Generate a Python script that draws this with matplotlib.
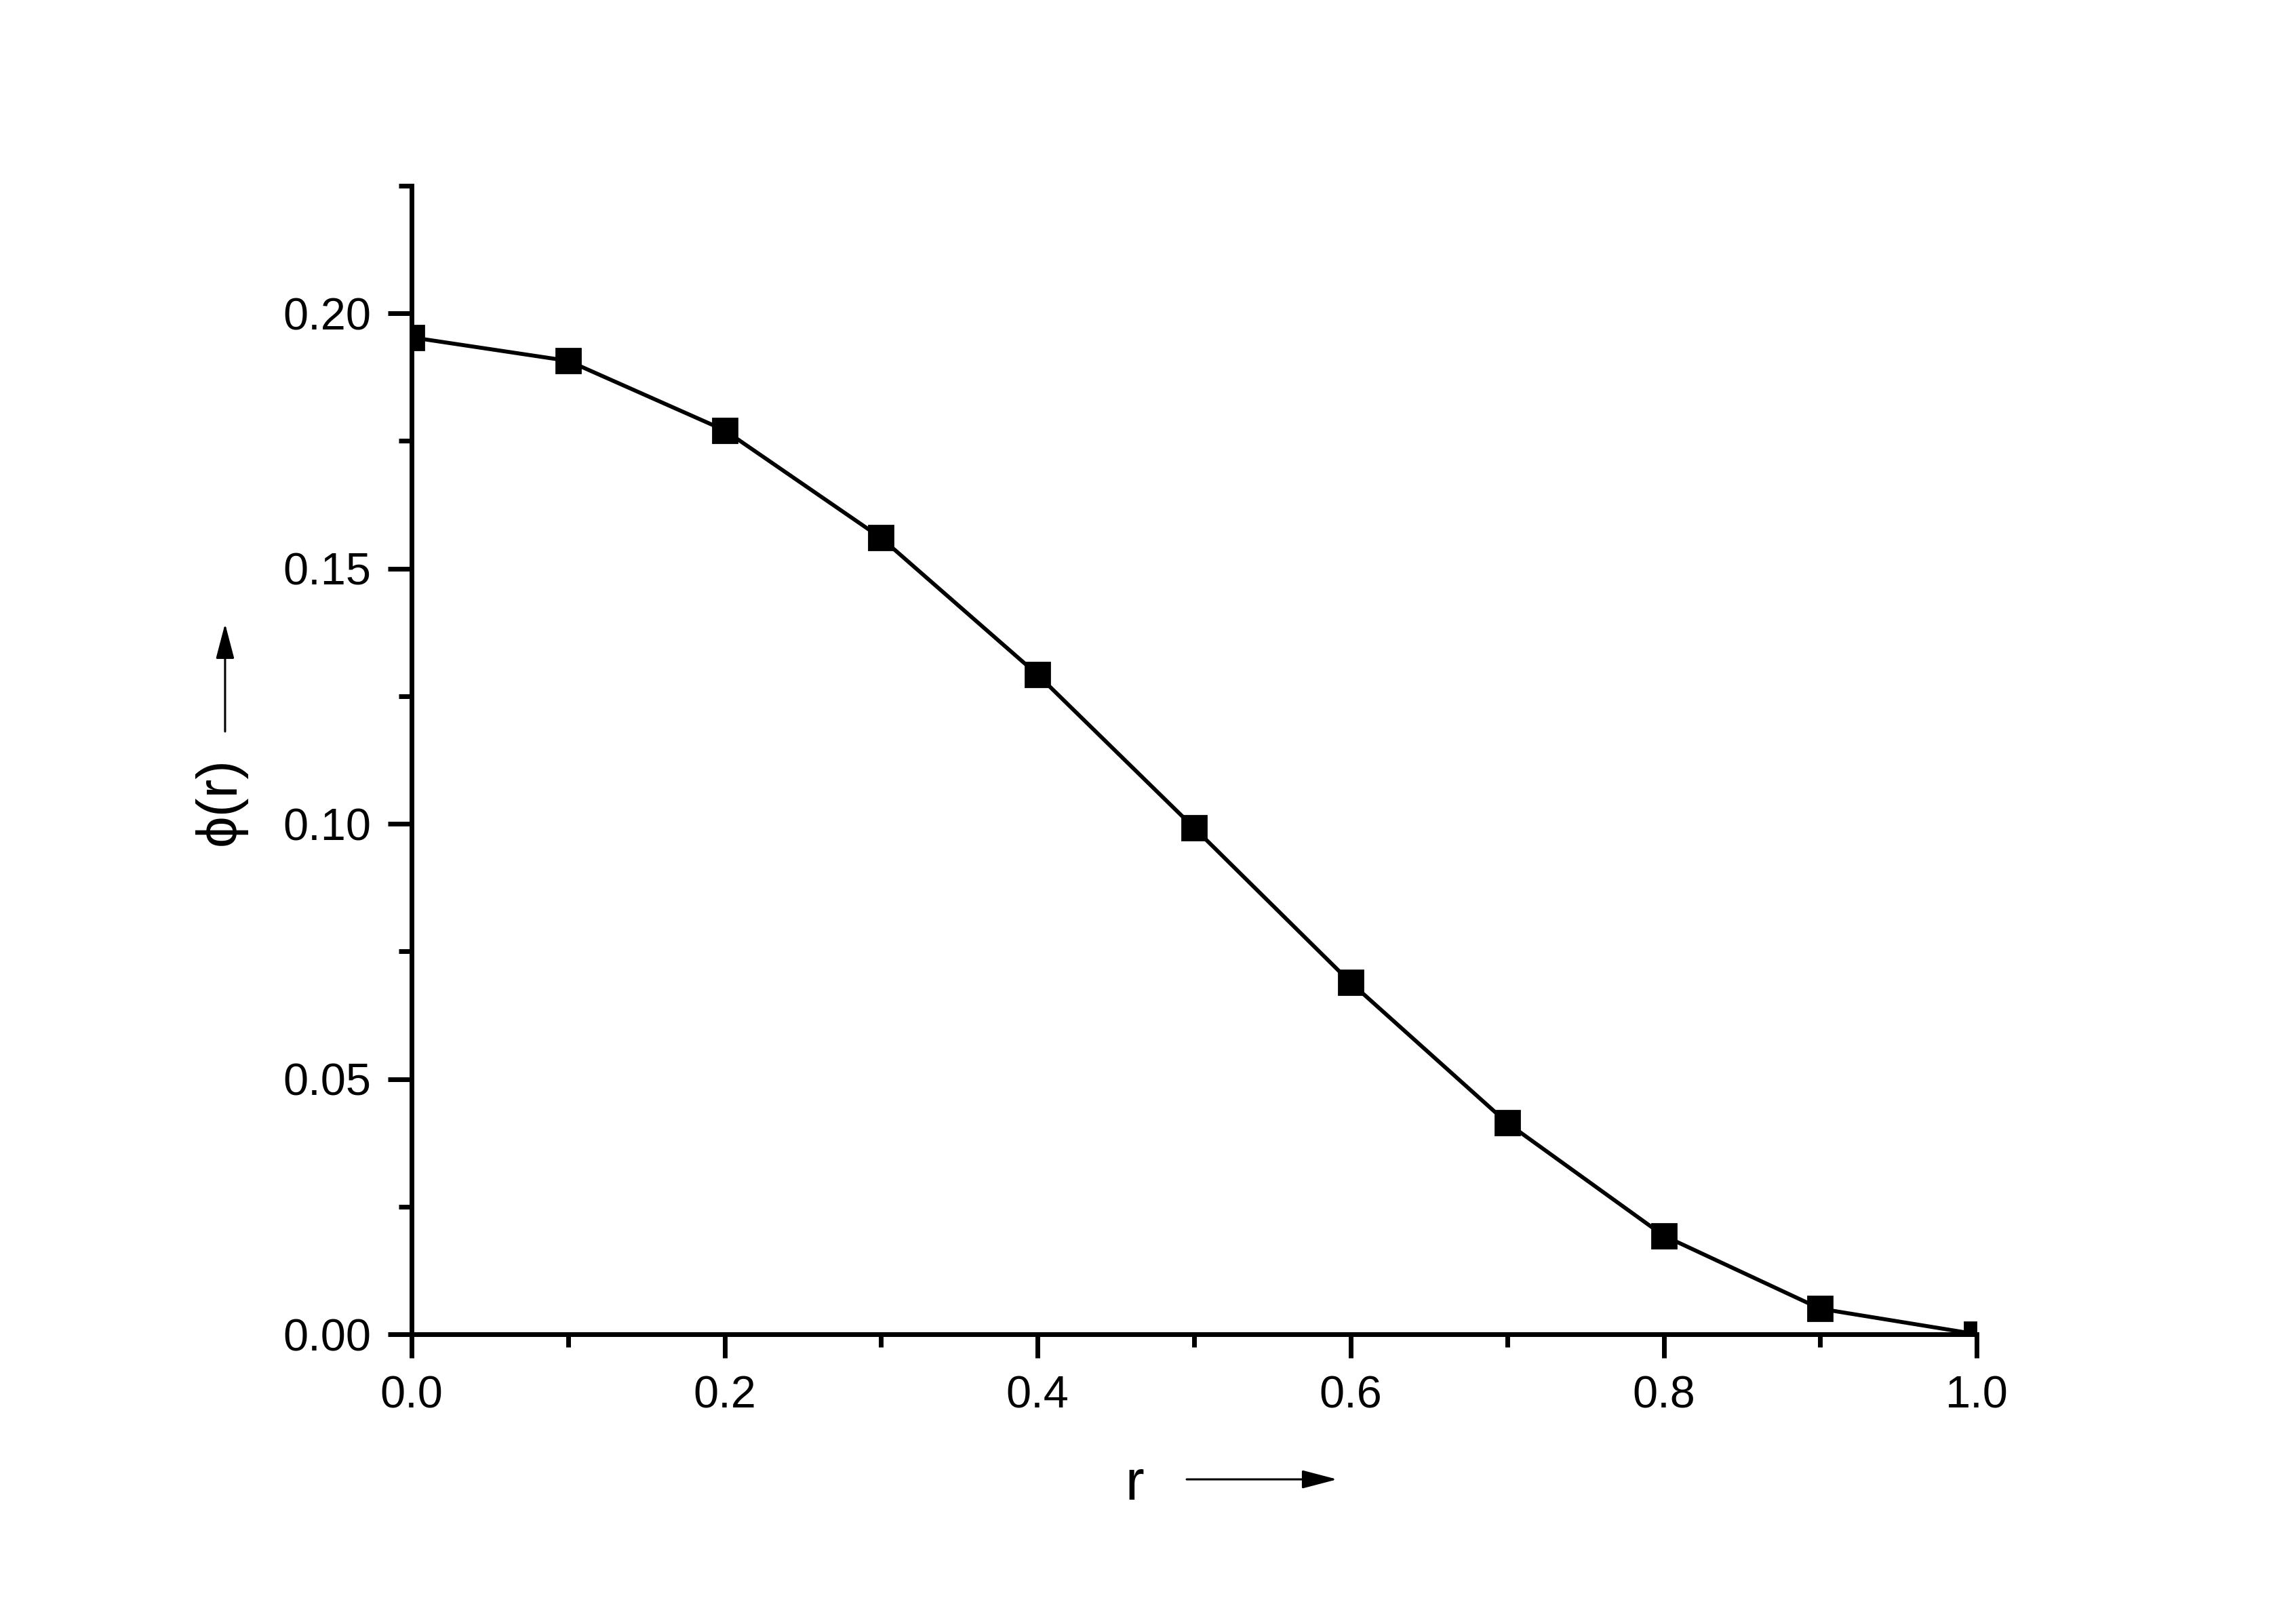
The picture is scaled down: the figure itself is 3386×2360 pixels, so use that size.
import numpy as np
import matplotlib
matplotlib.use('Agg')
import matplotlib.pyplot as plt
from matplotlib.patches import FancyArrowPatch
from matplotlib.ticker import MultipleLocator, FormatStrFormatter

plt.rcParams['font.family'] = ['Liberation Sans', 'DejaVu Sans']

# values
r_vals = [0.0, 0.1, 0.2, 0.3, 0.4, 0.5, 0.6, 0.7, 0.8, 0.9, 1.0]
phi_vals = [0.1953, 0.1907, 0.1771, 0.1560, 0.1292, 0.0992, 0.0689, 0.0414, 0.0193, 0.0050, 0.0]

x_label = 'r'
y_label = '\u03d5(r)'

fig = plt.figure(figsize=(16.935, 11.8), dpi=200)
ax = fig.add_axes([0.1792, 0.1661, 0.8607 - 0.1792, 0.8839 - 0.1661])

ax.plot(r_vals, phi_vals, color='black', lw=2.1, marker='s', ms=13.3,
        mfc='black', mec='black', clip_on=True)

ax.set_xlim(0, 1.0)
ax.set_ylim(0, 0.225)

ax.xaxis.set_major_locator(MultipleLocator(0.2))
ax.xaxis.set_minor_locator(MultipleLocator(0.1))
ax.yaxis.set_major_locator(MultipleLocator(0.05))
ax.yaxis.set_minor_locator(MultipleLocator(0.025))
ax.xaxis.set_major_formatter(FormatStrFormatter('%.1f'))
ax.yaxis.set_major_formatter(FormatStrFormatter('%.2f'))

for s in ['top', 'right']:
    ax.spines[s].set_visible(False)
for s in ['left', 'bottom']:
    ax.spines[s].set_linewidth(2.5)

ax.tick_params(which='major', direction='out', length=12.6, width=2.5,
               labelsize=24, pad=9)
ax.tick_params(which='minor', direction='out', length=6.8, width=2.5)

# axis labels with arrows, placed in figure coords
fig.text(0.4939, 0.0627, x_label, fontsize=30, ha='center', va='baseline')
fig.text(0.0960, 0.4992, y_label, fontsize=30, ha='center', va='center',
         rotation=90)

arr_style = '-|>,head_length=16,head_width=4.2'
xa = FancyArrowPatch((0.5167, 0.0754), (0.5822, 0.0754), transform=fig.transFigure,
                     arrowstyle=arr_style, mutation_scale=1, lw=1.1,
                     color='black', shrinkA=0, shrinkB=0)
ya = FancyArrowPatch((0.0980, 0.5428), (0.0980, 0.6102), transform=fig.transFigure,
                     arrowstyle=arr_style, mutation_scale=1, lw=1.1,
                     color='black', shrinkA=0, shrinkB=0)
fig.patches.append(xa)
fig.patches.append(ya)

plt.savefig('out.png', dpi=200)
plt.close()
